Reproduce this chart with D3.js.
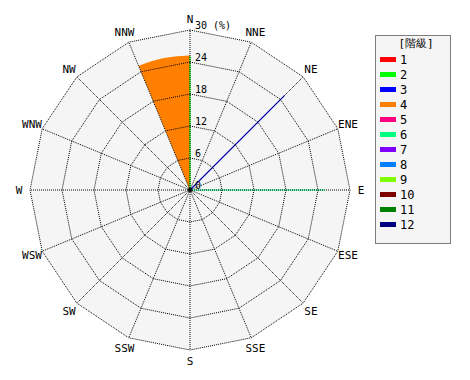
<!DOCTYPE html>
<html>
<head>
<meta charset="utf-8">
<script src="https://d3js.org/d3.v7.min.js"></script>
<style>
  body { margin: 0; background: #fff; }
  text { font-family: "DejaVu Sans Mono", monospace; fill: #000; }
</style>
</head>
<body>
<div id="chart"></div>
<script>
// 16 wind directions, clockwise from north
const directions = ['N','NNE','NE','ENE','E','ESE','SE','SSE','S','SSW','SW','WSW','W','WNW','NW','NNW'];
const ringTicks = [0, 6, 12, 18, 24, 30];
const classNames = ['1','2','3','4','5','6','7','8','9','10','11','12'];
const classColors = ['#ff0000','#00ff00','#0000ff','#ff8000','#ff0080','#00ff80','#8000ff','#0080ff','#80ff00','#800000','#008000','#000080'];

// marks: class, start direction, end direction, frequency (%)
const markClass = ['4', '2', '3', '6'];
const markFrom  = ['NNW', 'N', 'NE', 'E'];
const markTo    = ['N', 'N', 'NE', 'E'];
const markValue = [25.2, 25.1, 25.1, 25.2];

const width = 470, height = 380;
const cx = 190, cy = 190, R = 160;

const svg = d3.select('#chart').append('svg')
  .attr('width', width).attr('height', height);

const r = d3.scaleLinear().domain([0, 30]).range([0, R]);
const ang = d3.scaleLinear().domain([0, directions.length]).range([0, 2 * Math.PI]);
const color = d3.scaleOrdinal().domain(classNames).range(classColors);

const pt = (i, v) => [cx + r(v) * Math.sin(ang(i)), cy - r(v) * Math.cos(ang(i))];
const ringPath = v => 'M' + directions.map((d, i) => pt(i, v).join(',')).join('L') + 'Z';

// background polygon
svg.append('path').attr('d', ringPath(30)).attr('fill', '#f5f5f5');

// data marks
const g = svg.append('g').attr('transform', `translate(${cx},${cy})`);
markClass.forEach((c, k) => {
  let a0 = ang(directions.indexOf(markFrom[k]));
  let a1 = ang(directions.indexOf(markTo[k]));
  if (a1 < a0) a0 -= 2 * Math.PI;
  if (a0 === a1) {
    g.append('line')
      .attr('x1', 0).attr('y1', 0)
      .attr('x2', r(markValue[k]) * Math.sin(a0))
      .attr('y2', -r(markValue[k]) * Math.cos(a0))
      .attr('stroke', color(c)).attr('stroke-width', 1.2);
  } else {
    g.append('path')
      .attr('d', d3.arc()({innerRadius: 0, outerRadius: r(markValue[k]), startAngle: a0, endAngle: a1}))
      .attr('fill', color(c));
  }
});

// grid
const grid = svg.append('g')
  .attr('fill', 'none').attr('stroke', '#000')
  .attr('stroke-width', 1).attr('stroke-dasharray', '1,1');
ringTicks.filter(v => v > 0).forEach(v => grid.append('path').attr('d', ringPath(v)));
directions.forEach((d, i) => {
  const p = pt(i, 30);
  grid.append('line').attr('x1', cx).attr('y1', cy).attr('x2', p[0]).attr('y2', p[1]);
});
svg.append('circle').attr('cx', cx).attr('cy', cy).attr('r', 2).attr('fill', '#000');

// ring labels
svg.selectAll('.ringlab').data(ringTicks).join('text')
  .attr('class', 'ringlab')
  .attr('x', cx + 5)
  .attr('y', d => cy - r(d) - 1)
  .attr('font-size', 10)
  .attr('xml:space', 'preserve')
  .text(d => d === 30 ? '30 (%)' : d);

// direction labels
svg.selectAll('.dirlab').data(directions).join('text')
  .attr('class', 'dirlab')
  .attr('x', (d, i) => cx + 171 * Math.sin(ang(i)))
  .attr('y', (d, i) => cy - 171 * Math.cos(ang(i)))
  .attr('dy', '0.35em')
  .attr('text-anchor', 'middle')
  .attr('font-size', 11)
  .text(d => d);

// legend
const lg = svg.append('g');
lg.append('rect')
  .attr('x', 375.5).attr('y', 35.5).attr('width', 75).attr('height', 208)
  .attr('fill', '#f5f5f5').attr('stroke', '#000').attr('stroke-dasharray', '1,1');
lg.append('text').attr('x', 416).attr('y', 47).attr('text-anchor', 'middle')
  .attr('font-size', 11).attr('font-family', '"Noto Sans CJK JP", sans-serif')
  .text('[階級]');
const item = lg.selectAll('.item').data(classNames).join('g')
  .attr('class', 'item')
  .attr('transform', (d, i) => `translate(380,${59.5 + i * 15})`);
item.append('rect').attr('x', 0).attr('y', -2.5).attr('width', 16).attr('height', 5)
  .attr('fill', d => color(d));
item.append('text').attr('x', 20).attr('dy', '0.35em').attr('font-size', 12).text(d => d);
</script>
</body>
</html>
